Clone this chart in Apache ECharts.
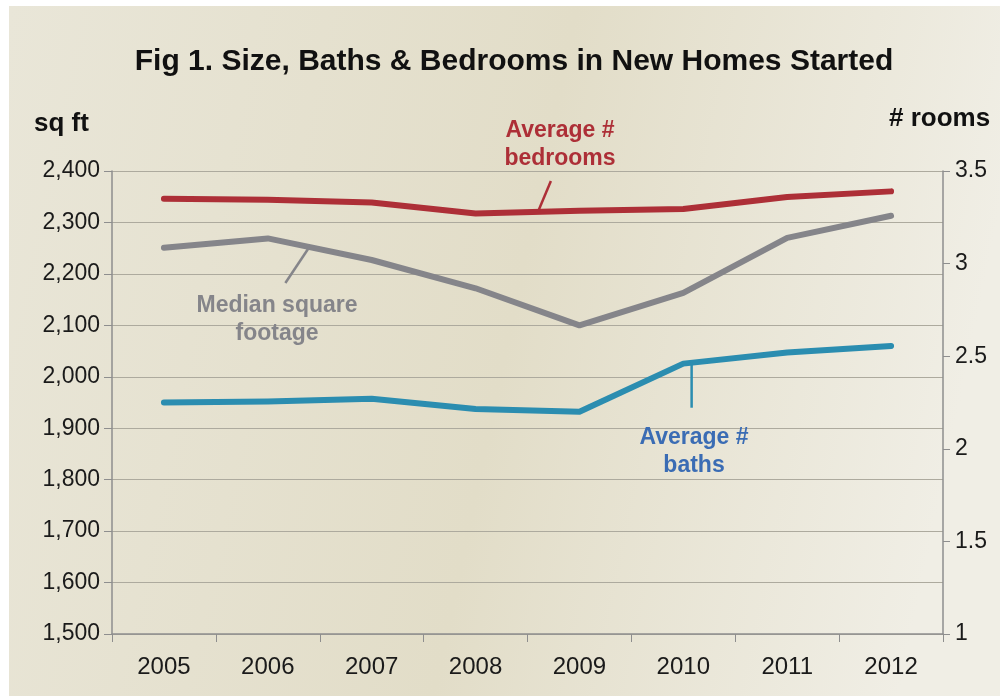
<!DOCTYPE html>
<html>
<head>
<meta charset="utf-8">
<script src="https://cdn.jsdelivr.net/npm/echarts@6/dist/echarts.min.js"></script>
<style>
	html, body { margin: 0; background: #fff; }
	#chart { width: 1000px; height: 696px; }
</style>
</head>
<body>
<div id="chart"></div>
<script>
const years = ['2005', '2006', '2007', '2008', '2009', '2010', '2011', '2012'];
const medianSqft = [2251, 2269, 2227, 2172, 2100, 2163, 2270, 2313];
const avgBedrooms = [3.35, 3.345, 3.33, 3.27, 3.285, 3.295, 3.36, 3.39];
const avgBaths = [2.25, 2.255, 2.27, 2.215, 2.2, 2.46, 2.52, 2.555];

const font = '"Liberation Sans", Arial, sans-serif';
const red = '#ad2f37';
const grey = '#85858a';
const teal = '#2b8db0';
const axisGrey = '#8e8e8e';

const chart = echarts.init(document.getElementById('chart'));

const lineSeries = (name, data, color, yIdx) => ({
	name: name,
	type: 'line',
	data: data,
	yAxisIndex: yIdx,
	symbol: 'none',
	smooth: false,
	z: 3,
	lineStyle: { color: color, width: 6, cap: 'round', join: 'round' },
});

chart.setOption({
	animation: false,
	textStyle: { fontFamily: font },
	title: {
		text: 'Fig 1. Size, Baths & Bedrooms in New Homes Started',
		left: 509,
		textAlign: 'center',
		top: 42,
		textStyle: { fontSize: 30, fontWeight: 'bold', color: '#111', fontFamily: font },
	},
	grid: { left: 112, right: 57, top: 171, bottom: 62 },
	xAxis: {
		type: 'category',
		data: years,
		boundaryGap: true,
		axisLine: { lineStyle: { color: axisGrey, width: 1.5 } },
		axisTick: { show: true, length: 8, lineStyle: { color: axisGrey } },
		axisLabel: { color: '#1a1a1a', fontSize: 24, margin: 21 },
	},
	yAxis: [
		{
			type: 'value',
			min: 1500,
			max: 2400,
			interval: 100,
			axisLine: { show: true, lineStyle: { color: axisGrey, width: 1.5 } },
			axisTick: { show: true, length: 8, lineStyle: { color: axisGrey } },
			axisLabel: {
				color: '#1a1a1a',
				fontSize: 23,
				margin: 12,
				formatter: v => v.toLocaleString('en-US'),
			},
			splitLine: { lineStyle: { color: '#adaa9e', width: 1.2 } },
		},
		{
			type: 'value',
			min: 1,
			max: 3.5,
			interval: 0.5,
			position: 'right',
			axisLine: { show: true, lineStyle: { color: axisGrey, width: 1.5 } },
			axisTick: { show: true, length: 7, lineStyle: { color: axisGrey } },
			axisLabel: { color: '#1a1a1a', fontSize: 23, margin: 12 },
			splitLine: { show: false },
		},
	],
	graphic: [
		{
			id: 'bg',
			type: 'rect',
			z: -10,
			silent: true,
			shape: { x: 9, y: 6, width: 991, height: 690 },
			style: {
				fill: new echarts.graphic.LinearGradient(0, 0, 1, 0.3, [
					{ offset: 0, color: '#e9e6d8' },
					{ offset: 0.55, color: '#e2ddc8' },
					{ offset: 1, color: '#f0eee5' },
				]),
			},
		},
	],
	series: [
		lineSeries('Average # bedrooms', avgBedrooms, red, 1),
		lineSeries('Median square footage', medianSqft, grey, 0),
		lineSeries('Average # baths', avgBaths, teal, 1),
	],
});

// annotations, anchored on the drawn lines
const pt = (idx, val, yIdx) => chart.convertToPixel({ xAxisIndex: 0, yAxisIndex: yIdx }, [idx, val]);
const between = (a, b, t) => [a[0] + (b[0] - a[0]) * t, a[1] + (b[1] - a[1]) * t];

const bedAnchor = between(pt(3, avgBedrooms[3], 1), pt(4, avgBedrooms[4], 1), 0.6);
const sqftAnchor = between(pt(1, medianSqft[1], 0), pt(2, medianSqft[2], 0), 0.4);
const bathAnchor = between(pt(5, avgBaths[5], 1), pt(6, avgBaths[6], 1), 0.08);

const label = (id, text, x, y, color) => ({
	id: id,
	type: 'text',
	z: 5,
	x: x,
	y: y,
	style: {
		text: text,
		fill: color,
		font: 'bold 23px ' + font,
		align: 'center',
		verticalAlign: 'middle',
		lineHeight: 28,
	},
});
const leader = (id, from, to, color) => ({
	id: id,
	type: 'line',
	z: 4,
	shape: { x1: from[0], y1: from[1], x2: to[0], y2: to[1] },
	style: { stroke: color, lineWidth: 2.5 },
});

chart.setOption({
	graphic: [
		{ id: 'sqftName', type: 'text', x: 34, y: 124, style: { text: 'sq ft', font: 'bold 26px ' + font, fill: '#111', verticalAlign: 'middle' } },
		{ id: 'roomsName', type: 'text', x: 889, y: 119, style: { text: '# rooms', font: 'bold 26px ' + font, fill: '#111', verticalAlign: 'middle' } },
		label('bedLabel', 'Average #\nbedrooms', 560, 145, red),
		leader('bedLeader', bedAnchor, [bedAnchor[0] + 13, bedAnchor[1] - 31], red),
		label('sqftLabel', 'Median square\nfootage', 277, 320, grey),
		leader('sqftLeader', sqftAnchor, [sqftAnchor[0] - 24, sqftAnchor[1] + 36], grey),
		label('bathLabel', 'Average #\nbaths', 694, 452, '#3a6cb4'),
		leader('bathLeader', bathAnchor, [bathAnchor[0], bathAnchor[1] + 45], teal),
	],
});
</script>
</body>
</html>
